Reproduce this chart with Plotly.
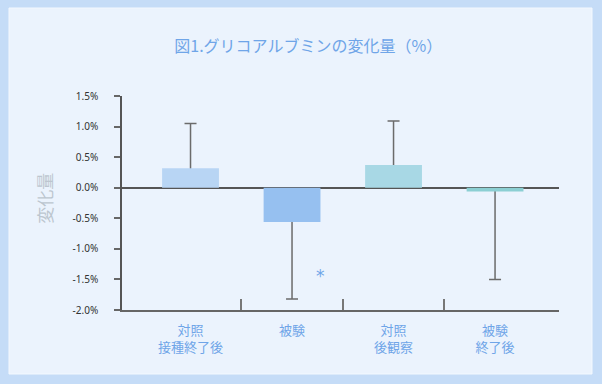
import plotly.graph_objects as go

categories = ["対照<br>接種終了後", "被験", "対照<br>後観察", "被験<br>終了後"]
values = [0.32, -0.56, 0.37, -0.06]
err_up = [0.73, 0.0, 0.72, 0.0]
err_down = [0.0, 1.26, 0.0, 1.44]
bar_colors = ["#b8d5f4", "#96c0f0", "#a8d8e5", "#8bcfd3"]
y_tickvals = [1.5, 1.0, 0.5, 0.0, -0.5, -1.0, -1.5, -2.0]
y_ticktext = ["1.5%", "1.0%", "0.5%", "0.0%", "-0.5%", "-1.0%", "-1.5%", "-2.0%"]
boundaries = [0.5, 1.5, 2.5]
x_pos = list(range(len(categories)))

JP = "Noto Sans CJK JP, Noto Sans, sans-serif"
INNER = 0.04  # hidden stub of the error bar inside the bar (hides the inner cap)

# outward part of each error bar, plus a small hidden stub pointing into the bar
e_plus = [u if v >= 0 else INNER for u, v in zip(err_up, values)]
e_minus = [INNER if v >= 0 else d for d, v in zip(err_down, values)]

fig = go.Figure()
# error bars (drawn first, on transparent bars)
fig.add_trace(go.Bar(
    x=x_pos, y=values, width=0.56,
    marker=dict(color="rgba(0,0,0,0)", line=dict(width=0)),
    error_y=dict(type="data", symmetric=False, array=e_plus, arrayminus=e_minus,
                 color="#6b6b6b", thickness=1.5, width=6),
    showlegend=False, hoverinfo="skip",
))
# visible bars on top
fig.add_trace(go.Bar(
    x=x_pos, y=values, width=0.56,
    marker=dict(color=bar_colors, line=dict(width=0)),
    showlegend=False,
))

fig.update_layout(
    width=602, height=384,
    barmode="overlay",
    margin=dict(l=122, r=43, t=96, b=74),
    paper_bgcolor="#c5dcf7",
    plot_bgcolor="rgba(0,0,0,0)",
    font=dict(family=JP),
    title=dict(text="図1.グリコアルブミンの変化量（%）", x=0.512, xanchor="center",
               y=1 - 46 / 384, yanchor="middle", yref="container",
               font=dict(size=16, color="#6fa5e8", family=JP)),
    xaxis=dict(range=[-0.675, 3.63], tickvals=x_pos, ticktext=categories,
               ticks="", showgrid=False, zeroline=False,
               showline=True, linecolor="#666666", linewidth=1.5,
               tickfont=dict(size=13, color="#6fa5e8", family=JP),
               ticklabelstandoff=8,
               minor=dict(tickvals=boundaries, ticks="inside", ticklen=11,
                          tickwidth=2, tickcolor="#777777", showgrid=False)),
    yaxis=dict(range=[-2.0, 1.5], tickvals=y_tickvals, ticktext=y_ticktext,
               ticks="outside", ticklen=6, tickwidth=1.5, tickcolor="#666666",
               showgrid=False, zeroline=True, zerolinecolor="#555555", zerolinewidth=1.5,
               showline=True, linecolor="#555555", linewidth=1.5,
               ticklabelstandoff=14,
               tickfont=dict(size=10, color="#333333", family="Noto Sans, sans-serif")),
    shapes=[dict(type="rect", xref="paper", yref="paper", layer="below",
                 x0=(9 - 122) / 437, x1=(592 - 122) / 437,
                 y0=(310 - 374) / 214, y1=(310 - 8) / 214,
                 fillcolor="#ebf3fd", line=dict(color="#f3f8fe", width=1))],
    annotations=[
        dict(text="変化量", xref="paper", yref="paper", x=(45 - 122) / 437, y=0.52,
             textangle=-90, showarrow=False, xanchor="center", yanchor="middle",
             font=dict(size=17, color="#bcc6cf", family=JP)),
        dict(text="*", x=1.28, y=-1.44, xref="x", yref="y", showarrow=False,
             font=dict(size=17, color="#6fa5e8", family="DejaVu Sans")),
    ],
)

fig.write_html("out.html", config={"displayModeBar": False},
               post_script="document.body.style.margin='0';document.body.style.background='#c5dcf7';")
